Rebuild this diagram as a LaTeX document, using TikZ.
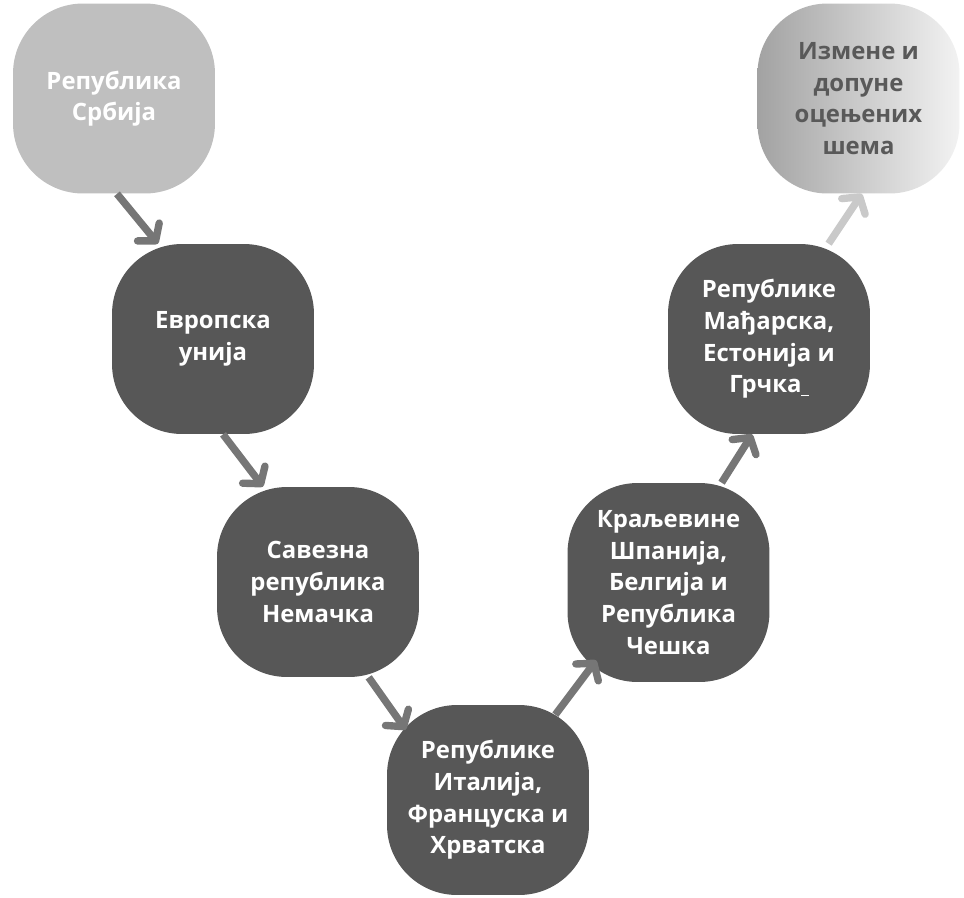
\documentclass[tikz,border=0pt]{standalone}
\usepackage{fontspec}
\setmainfont{Open Sans}
\usetikzlibrary{arrows.meta}
\definecolor{boxdark}{HTML}{575757}
\definecolor{boxlight}{HTML}{BFBFBF}
\definecolor{arrowgray}{HTML}{767676}
\definecolor{arrowlight}{HTML}{C9C9C9}
\definecolor{textgray}{HTML}{595959}
\begin{document}
\begin{tikzpicture}[x=0.02cm,y=-0.02cm,
    stage/.style={rounded corners=1.4cm, minimum width=4.04cm, minimum height=3.8cm,
        inner sep=0pt, align=center, text=white,
        font=\fontsize{13.6}{18}\selectfont\bfseries},
    darkstage/.style={stage, fill=boxdark},
    flow/.style={line width=4.2pt, arrowgray, -{Straight Barb[round, length=6.5pt, width=16pt]}}]
    \useasboundingbox (0,0) rectangle (964,897);

    \node[stage, fill=boxlight] (b1) at (114,98.5) {Република\\Србија};
    \node[darkstage] (b2) at (213,339) {Европска\\унија};
    \node[darkstage] (b3) at (318,582) {Савезна\\република\\Немачка};
    \node[darkstage] (b4) at (488,800) {Републике\\Италија,\\Француска и\\Хрватска};
    \node[darkstage, minimum height=3.98cm] (b5) at (668.5,582.5) {Краљевине\\Шпанија,\\Белгија и\\Република\\Чешка};
    \node[darkstage] (b6) at (769,339) {Републике\\Мађарска,\\Естонија и\\Грчка\underline{\hspace{4pt}}};
    \node[stage, left color=boxlight!85!black, right color=white!95!black, text=textgray] (b7) at (858.5,98.5) {Измене и\\допуне\\оцењених\\шема};

    \draw[flow] (b1.south) ++(3,0) -- (b2.120);
    \draw[flow] (b2.-84) -- (b3.120);
    \draw[flow] (b3.-62) -- ([shift={(19,25)}]b4.north west);
    \draw[flow] ([shift={(-34,10)}]b4.north east) -- ([shift={(29,-22)}]b5.south west);
    \draw[flow] (b5.62) -- (b6.-100);
    \draw[flow, arrowlight] (b6.58) -- (b7.-88);
\end{tikzpicture}
\end{document}
